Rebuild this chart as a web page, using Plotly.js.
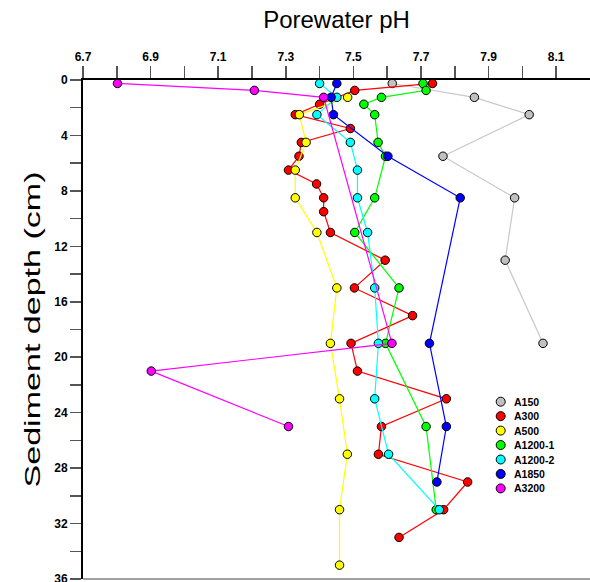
<!DOCTYPE html>
<html>
<head>
<meta charset="utf-8">
<script src="https://cdn.plot.ly/plotly-3.0.1.min.js"></script>
<style>
  html, body { margin: 0; padding: 0; background: #fff; }
  #chart { width: 590px; height: 582px; }
</style>
</head>
<body>
<div id="chart"></div>
<script>
// Porewater pH profiles by station (depth in cm, pH)
const seriesNames = ['A150', 'A300', 'A500', 'A1200-1', 'A1200-2', 'A1850', 'A3200'];
const fillColors  = ['#c0c0c0', '#ff0000', '#ffff00', '#00ff00', '#00ffff', '#0000ff', '#ff00ff'];
const lineColors  = ['#c8c8c8', '#ff0000', '#ffff00', '#00ff00', '#00ffff', '#0000ff', '#ff00ff'];

const depthA150 = [0.25, 1.25, 2.5, 5.5, 8.5, 13, 19];
const phA150    = [7.615, 7.858, 8.02, 7.765, 7.977, 7.949, 8.061];

const depthA300 = [0.25, 0.75, 1.75, 2.5, 3.5, 4.5, 5.5, 6.5, 7.5, 8.5, 9.5, 11, 13, 15, 17, 19, 21, 23, 25, 27, 29, 31, 33];
const phA300    = [7.734, 7.504, 7.400, 7.328, 7.491, 7.346, 7.339, 7.308, 7.391, 7.412, 7.412, 7.432, 7.594, 7.503, 7.675, 7.493, 7.512, 7.775, 7.583, 7.574, 7.838, 7.767, 7.635];

const depthA500 = [1.25, 2.5, 4.5, 6.5, 8.5, 11, 15, 19, 23, 27, 31, 35];
const phA500    = [7.483, 7.340, 7.360, 7.328, 7.328, 7.392, 7.451, 7.432, 7.459, 7.482, 7.459, 7.459];

const depthA1200a = [0.25, 0.75, 1.25, 1.75, 2.5, 4.5, 5.5, 8.5, 11, 15, 19, 25, 31];
const phA1200a    = [7.706, 7.715, 7.583, 7.531, 7.563, 7.573, 7.595, 7.563, 7.504, 7.635, 7.595, 7.715, 7.745];

const depthA1200b = [0.25, 1.25, 2.5, 4.5, 6.5, 8.5, 11, 15, 19, 23, 27, 31];
const phA1200b    = [7.400, 7.451, 7.392, 7.491, 7.512, 7.512, 7.542, 7.563, 7.574, 7.563, 7.604, 7.754];

const depthA1850 = [0.25, 1.25, 2.5, 5.5, 8.5, 19, 25, 29];
const phA1850    = [7.451, 7.434, 7.441, 7.602, 7.816, 7.725, 7.775, 7.747];

const depthA3200 = [0.25, 0.75, 1.25, 19, 21, 25];
const phA3200    = [6.802, 7.207, 7.412, 7.614, 6.902, 7.308];

const xTickVals = [6.7, 6.8, 6.9, 7.0, 7.1, 7.2, 7.3, 7.4, 7.5, 7.6, 7.7, 7.8, 7.9, 8.0, 8.1];
const xTickText = ['6.7', '', '6.9', '', '7.1', '', '7.3', '', '7.5', '', '7.7', '', '7.9', '', '8.1'];
const yTickVals = [0, 2, 4, 6, 8, 10, 12, 14, 16, 18, 20, 22, 24, 26, 28, 30, 32, 34, 36];
const yTickText = ['0', '', '4', '', '8', '', '12', '', '16', '', '20', '', '24', '', '28', '', '32', '', '36'];

const depths = [depthA150, depthA300, depthA500, depthA1200a, depthA1200b, depthA1850, depthA3200];
const phs    = [phA150, phA300, phA500, phA1200a, phA1200b, phA1850, phA3200];

const FONT = 'Liberation Sans, Arial, Helvetica, sans-serif';

const traces = seriesNames.map((name, i) => ({
  type: 'scatter',
  mode: 'lines+markers',
  name: name,
  x: phs[i],
  y: depths[i],
  line: { color: lineColors[i], width: 1.2 },
  marker: { size: 8.5, color: fillColors[i], line: { color: '#000', width: 1 } },
  cliponaxis: false
}));

// Compact legend drawn with circle shapes and text annotations
const plotL = 83, plotT = 80, plotW = 507, plotH = 499;
const legX = 500.7, legTextX = 512, legY0 = 401.7, legStep = 14.45;
const toPaperX = px => (px - plotL) / plotW;
const toPaperY = py => 1 - (py - plotT) / plotH;

const shapes = seriesNames.map((name, i) => ({
  type: 'circle', xref: 'paper', yref: 'paper',
  xsizemode: 'pixel', ysizemode: 'pixel',
  xanchor: toPaperX(legX), yanchor: toPaperY(legY0 + i * legStep),
  x0: -4.5, x1: 4.5, y0: -4.5, y1: 4.5,
  fillcolor: fillColors[i], line: { color: '#000', width: 1 }
}));
// bottom frame line
shapes.push({
  type: 'line', xref: 'paper', yref: 'paper', x0: 0, x1: 1, y0: 0, y1: 0,
  line: { color: '#808080', width: 1.5 }
});

const annotations = seriesNames.map((name, i) => ({
  xref: 'paper', yref: 'paper',
  x: toPaperX(legTextX), y: toPaperY(legY0 + i * legStep),
  xanchor: 'left', yanchor: 'middle', showarrow: false,
  text: name, font: { family: FONT, size: 10.5, weight: 'bold', color: '#000' }
}));

const axisCommon = {
  tickmode: 'array', ticks: 'outside', tickwidth: 1.5, tickcolor: '#555',
  showline: true, linecolor: '#000', linewidth: 2,
  showgrid: false, zeroline: false, fixedrange: true,
  ticklabeloverflow: 'allow',
  tickfont: { family: FONT, size: 12, weight: 'bold', color: '#000' }
};

const layout = {
  width: 590, height: 582,
  margin: { l: plotL, r: 0, t: plotT, b: 3 },
  paper_bgcolor: '#fff', plot_bgcolor: '#fff',
  showlegend: false,
  title: {
    text: 'Porewater pH', font: { family: FONT, size: 24, color: '#000' },
    xref: 'paper', x: 0.5, xanchor: 'center',
    yref: 'container', y: 1 - 20 / 582, yanchor: 'middle'
  },
  xaxis: Object.assign({}, axisCommon, {
    range: [6.7, 8.2], side: 'top', tickvals: xTickVals, ticktext: xTickText, ticklen: 12
  }),
  yaxis: Object.assign({}, axisCommon, {
    range: [36, 0], tickvals: yTickVals, ticktext: yTickText, ticklen: 11,
    title: { text: 'Sediment depth (cm)', font: { family: FONT, size: 22, color: '#000' }, standoff: 8 }
  }),
  shapes: shapes,
  annotations: annotations
};

Plotly.newPlot('chart', traces, layout, { staticPlot: true }).then(() => {
  const t = document.querySelector('.g-ytitle text');
  if (t) {
    t.setAttribute('textLength', '316');
    t.setAttribute('lengthAdjust', 'spacingAndGlyphs');
  }
});
</script>
</body>
</html>
